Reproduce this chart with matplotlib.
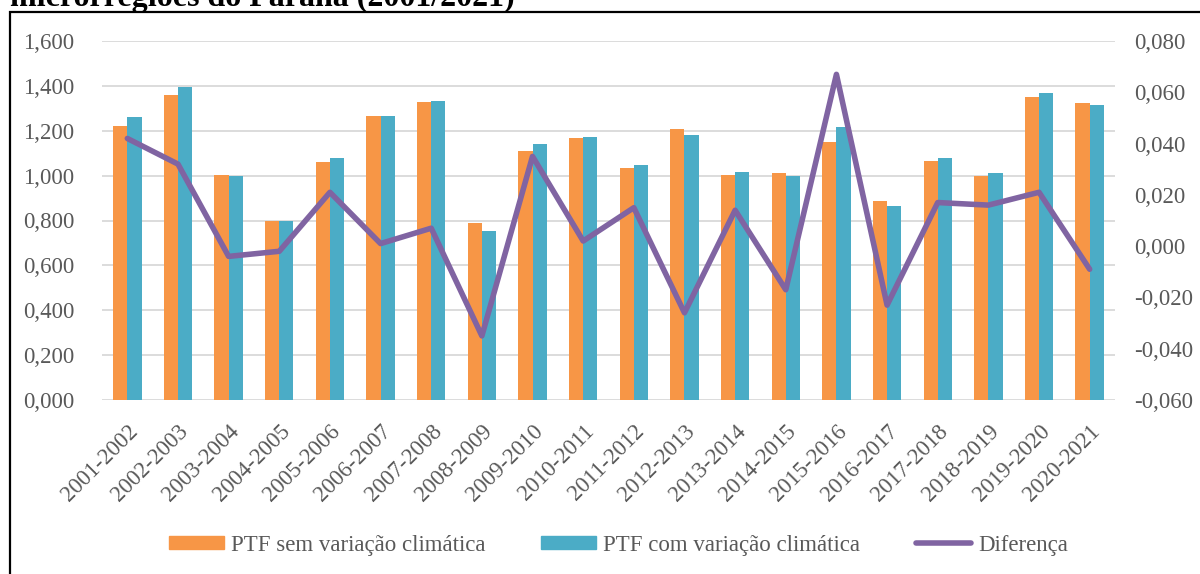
import matplotlib.pyplot as plt
from matplotlib.patches import Patch, Rectangle
from matplotlib.lines import Line2D
from matplotlib.ticker import FuncFormatter
import numpy as np

safras = ["2001-2002", "2002-2003", "2003-2004", "2004-2005", "2005-2006",
          "2006-2007", "2007-2008", "2008-2009", "2009-2010", "2010-2011",
          "2011-2012", "2012-2013", "2013-2014", "2014-2015", "2015-2016",
          "2016-2017", "2017-2018", "2018-2019", "2019-2020", "2020-2021"]

ptf_sem = [1.220, 1.361, 1.003, 0.798, 1.059, 1.267, 1.328, 0.788, 1.110, 1.169,
           1.034, 1.208, 1.004, 1.013, 1.148, 0.889, 1.064, 0.997, 1.349, 1.324]
ptf_com = [1.261, 1.393, 0.997, 0.797, 1.080, 1.267, 1.334, 0.754, 1.143, 1.171,
           1.048, 1.181, 1.016, 0.997, 1.215, 0.866, 1.080, 1.013, 1.370, 1.316]
diferenca = [0.042, 0.032, -0.004, -0.002, 0.021, 0.001, 0.007, -0.035, 0.035, 0.002,
             0.015, -0.026, 0.014, -0.017, 0.067, -0.023, 0.017, 0.016, 0.021, -0.009]

laranja = "#F79646"
azul = "#4BACC6"
roxo = "#8064A2"
cinza = "#595959"
fonte = "Liberation Serif"
tam = 16.5

plt.rcParams["font.family"] = [fonte, "DejaVu Serif"]

fig = plt.figure(figsize=(12, 5.74), dpi=100)
ax = fig.add_axes([102 / 1200, 1 - 400 / 574, (1115 - 102) / 1200, (400 - 41) / 574])
ax2 = ax.twinx()

x = np.arange(len(safras))
w = 0.28
ax.bar(x - w / 2, ptf_sem, w, color=laranja, zorder=2)
ax.bar(x + w / 2, ptf_com, w, color=azul, zorder=2)
ax2.plot(x, diferenca, color=roxo, lw=4, solid_joinstyle="round",
         solid_capstyle="round", zorder=3)

ax.set_xlim(-0.5, len(safras) - 0.5)
ax.set_ylim(0, 1.6)
ax.set_yticks(np.arange(0, 1.61, 0.2))
ax2.set_ylim(-0.06, 0.08)
ax2.set_yticks(np.arange(-0.06, 0.081, 0.02))

virgula = lambda v, p: ("%.3f" % v).replace(".", ",").replace("-0,000", "0,000")
ax.yaxis.set_major_formatter(FuncFormatter(virgula))
ax2.yaxis.set_major_formatter(FuncFormatter(virgula))

ax.grid(axis="y", color="#D9D9D9", lw=1.3, zorder=0)
ax.set_axisbelow(True)

ax.set_xticks(x)
ax.set_xticklabels(safras, rotation=45, ha="right", va="top",
                   rotation_mode="anchor")
ax.tick_params(axis="x", length=0, pad=15, labelsize=tam, labelcolor=cinza)
ax.tick_params(axis="y", length=0, pad=20, labelsize=tam, labelcolor=cinza)
ax2.tick_params(axis="y", length=0, pad=14, labelsize=tam, labelcolor=cinza)

for a in (ax, ax2):
    for s in a.spines.values():
        s.set_visible(False)

ax.set_zorder(1)
ax2.set_zorder(2)
ax2.patch.set_visible(False)

handles = [Patch(color=laranja), Patch(color=azul),
           Line2D([0], [0], color=roxo, lw=4, solid_capstyle="round")]
labels = ["PTF sem variação climática", "PTF com variação climática", "Diferença"]
fig.legend(handles, labels, loc="center", bbox_to_anchor=(0.5155, 1 - 545 / 574),
           ncol=3, frameon=False, fontsize=tam, handlelength=2.4,
           handleheight=0.5, handletextpad=0.3, columnspacing=2.43,
           labelcolor=cinza)

# moldura e título cortado no topo
fig.patches.append(Rectangle((10 / 1200, -0.1), 1.2, 1.1 - 12 / 574,
                             transform=fig.transFigure, fill=False,
                             edgecolor="black", lw=1.6))
fig.text(10 / 1200, 1 - 6 / 574, "microrregiões do Paraná (2001/2021)",
         fontsize=23, fontweight="bold", color="black", va="baseline", ha="left")

fig.savefig("out.png", dpi=100)
